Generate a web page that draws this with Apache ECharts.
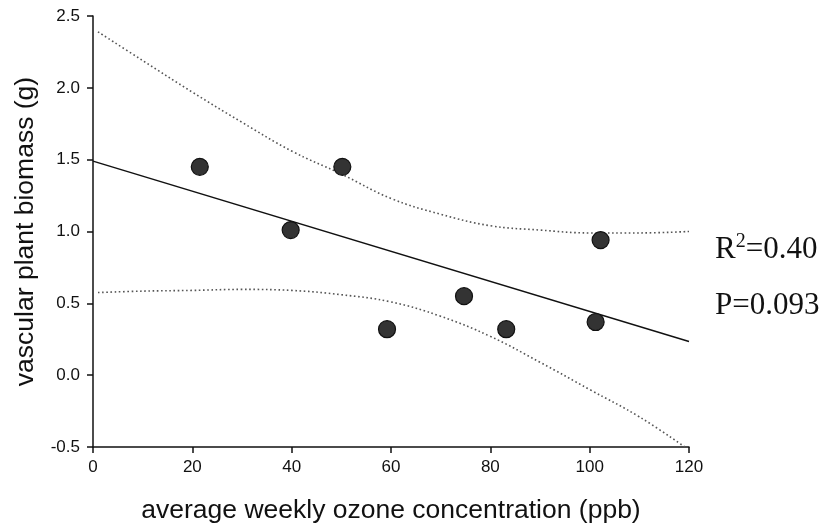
<!DOCTYPE html>
<html>
<head>
<meta charset="utf-8">
<script src="https://cdn.jsdelivr.net/npm/echarts@6/dist/echarts.min.js"></script>
<style>
  html, body { margin: 0; padding: 0; background: #fff; }
  #chart { width: 825px; height: 529px; }
</style>
</head>
<body>
<div id="chart"></div>
<script>
// Observed plots: weekly ozone (ppb) vs. vascular plant biomass (g)
const ozone   = [21.5, 39.8, 50.2, 59.2, 74.7, 83.2, 101.2, 102.2];
const biomass = [1.45, 1.01, 1.45, 0.32, 0.55, 0.32, 0.37, 0.94];

// Fitted regression line end points
const fitX = [0, 120];
const fitY = [1.49, 0.234];

// 95% confidence band
const bandX     = [1, 10, 20, 30, 40, 50, 60, 70, 80, 90, 100, 110, 120];
const upperBand = [2.39, 2.19, 1.97, 1.76, 1.56, 1.40, 1.23, 1.12, 1.04, 1.01, 0.99, 0.99, 1.00];
const lowerBand = [0.575, 0.585, 0.59, 0.597, 0.59, 0.56, 0.51, 0.41, 0.27, 0.09, -0.10, -0.29, -0.52];

// Axis ranges
const xTicks = { min: 0, max: 120, interval: 20 };
const yTicks = { min: -0.5, max: 2.5, interval: 0.5 };

const zip = (a, b) => a.map((v, i) => [v, b[i]]);

const chart = echarts.init(document.getElementById('chart'), null, { renderer: 'canvas' });

const axisCommon = {
  axisLine: { show: true, onZero: false, lineStyle: { color: '#111', width: 1.5 } },
  axisTick: { show: true, inside: false, length: 6, lineStyle: { color: '#111', width: 1.5 } },
  splitLine: { show: false },
  axisLabel: { color: '#111', fontFamily: 'Liberation Sans', fontSize: 17 },
  nameTextStyle: { color: '#111', fontFamily: 'Liberation Sans', fontSize: 26.5 }
};

const bandStyle = { color: '#555', width: 1.6, type: [1.6, 2.6] };

chart.setOption({
  animation: false,
  backgroundColor: '#fff',
  grid: { left: 93, right: 136, top: 16, bottom: 81, containLabel: false },
  xAxis: Object.assign({}, axisCommon, {
    type: 'value',
    min: xTicks.min, max: xTicks.max, interval: xTicks.interval,
    name: 'average weekly ozone concentration (ppb)',
    nameLocation: 'middle',
    nameGap: 50,
    axisLabel: Object.assign({}, axisCommon.axisLabel, { margin: 12 })
  }),
  yAxis: Object.assign({}, axisCommon, {
    type: 'value',
    min: yTicks.min, max: yTicks.max, interval: yTicks.interval,
    name: 'vascular plant biomass (g)',
    nameLocation: 'middle',
    nameGap: 54,
    axisLabel: Object.assign({}, axisCommon.axisLabel, {
      margin: 13,
      formatter: v => v.toFixed(1)
    })
  }),
  series: [
    {
      name: 'upper 95% CI',
      type: 'line',
      data: zip(bandX, upperBand),
      smooth: 0.4,
      symbol: 'none',
      clip: true,
      lineStyle: bandStyle,
      z: 2
    },
    {
      name: 'lower 95% CI',
      type: 'line',
      data: zip(bandX, lowerBand),
      smooth: 0.4,
      symbol: 'none',
      clip: true,
      lineStyle: bandStyle,
      z: 2
    },
    {
      name: 'regression',
      type: 'line',
      data: zip(fitX, fitY),
      symbol: 'none',
      lineStyle: { color: '#111', width: 1.5 },
      z: 3
    },
    {
      name: 'biomass',
      type: 'scatter',
      data: zip(ozone, biomass),
      symbol: 'circle',
      symbolSize: 17,
      itemStyle: { color: '#333', borderColor: '#111', borderWidth: 1.2, opacity: 1 },
      z: 4
    }
  ],
  graphic: [
    {
      type: 'text',
      left: 715,
      top: 232,
      style: {
        text: '{a|R}{b|2}{a|=0.40}',
        rich: {
          a: { fontFamily: 'Liberation Serif', fontSize: 31, lineHeight: 36, fill: '#111' },
          b: { fontFamily: 'Liberation Serif', fontSize: 20, lineHeight: 19, verticalAlign: 'top', fill: '#111' }
        }
      }
    },
    {
      type: 'text',
      left: 715,
      top: 288,
      style: {
        text: 'P=0.093',
        fontFamily: 'Liberation Serif',
        fontSize: 31,
        lineHeight: 36,
        fill: '#111'
      }
    }
  ]
});
</script>
</body>
</html>
